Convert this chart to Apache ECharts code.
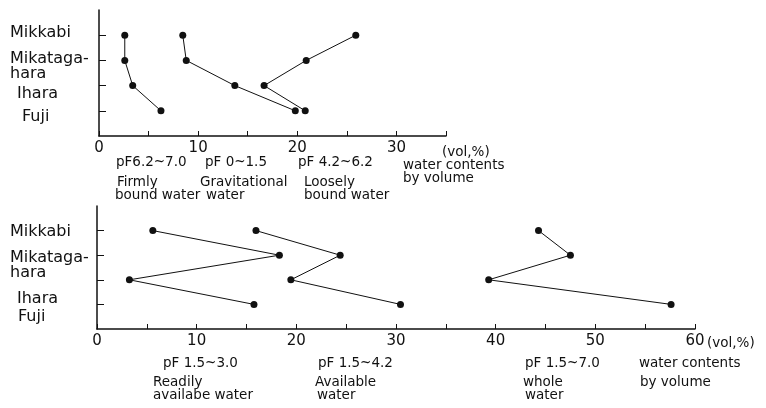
<!DOCTYPE html>
<html>
<head>
<meta charset="UTF-8">
<script src="https://cdn.jsdelivr.net/npm/echarts@6/dist/echarts.min.js"></script>
<style>
html, body { margin: 0; padding: 0; background: #fff; }
#main { width: 766px; height: 408px; }
</style>
</head>
<body>
<div id="main"></div>
<script>
// sites, top to bottom
var sites = ['Mikkabi', 'Mikatagahara', 'Ihara', 'Fuji'];
var siteLabels = ['Mikkabi', 'Mikataga-\nhara', 'Ihara', 'Fuji'];

// upper panel - water contents by volume (vol,%)
var firmlyBound = [2.6, 2.6, 3.4, 6.25];       // pF 6.2~7.0
var gravitational = [8.45, 8.8, 13.7, 19.8];   // pF 0~1.5
var looselyBound = [25.9, 20.9, 16.65, 20.8];  // pF 4.2~6.2

// lower panel
var readilyAvail = [5.6, 18.3, 3.25, 15.75];   // pF 1.5~3.0
var available = [15.95, 24.4, 19.45, 30.45];   // pF 1.5~4.2
var wholeWater = [44.3, 47.5, 39.3, 57.6];     // pF 1.5~7.0

var topTickLabels = [0, 10, 20, 30];
var bottomTickLabels = [0, 10, 20, 30, 40, 50, 60];

var FONT = '"DejaVu Sans", sans-serif';
var INK = '#111';

// site i sits at position i+1 on a 0..5 axis
function toPoints(arr) {
	return arr.map(function (v, i) { return [v, i + 1]; });
}

function lineSeries(name, arr, grid) {
	return {
		name: name,
		type: 'line',
		xAxisIndex: grid,
		yAxisIndex: grid,
		data: toPoints(arr),
		symbol: 'circle',
		symbolSize: 7,
		itemStyle: { color: INK },
		lineStyle: { color: INK, width: 1 },
		silent: true,
		animation: false
	};
}

function xAxis(grid, max, labels) {
	return {
		type: 'value', gridIndex: grid, min: 0, max: max, interval: 5,
		position: 'bottom',
		axisLine: { onZero: false, lineStyle: { color: INK, width: 1.5 } },
		axisTick: { inside: true, length: 5, lineStyle: { color: INK } },
		splitLine: { show: false },
		axisLabel: {
			color: INK, fontFamily: FONT, fontSize: 15, margin: 5,
			formatter: function (v) { return labels.indexOf(v) >= 0 ? String(v) : ''; }
		}
	};
}

function yAxis(grid) {
	return {
		type: 'value', gridIndex: grid, min: 0, max: 5, interval: 1, inverse: true,
		position: 'left',
		axisLine: { show: true, onZero: false, lineStyle: { color: INK, width: 1.5 } },
		axisTick: { show: true, inside: true, length: 7, customValues: [1, 2, 3, 4], lineStyle: { color: INK } },
		axisLabel: { show: false },
		splitLine: { show: false }
	};
}

// hand-lettered notes under the axes: [text, left x, baseline y]
var notes = [
	['pF6.2~7.0', 116, 167], ['Firmly', 117, 187], ['bound water', 115, 200],
	['pF 0~1.5', 205, 167], ['Gravitational', 200, 187], ['water', 206, 200],
	['pF 4.2~6.2', 298, 167], ['Loosely', 304, 187], ['bound water', 304, 200],
	['(vol,%)', 442, 157], ['water contents', 403, 170], ['by volume', 403, 183],
	['pF 1.5~3.0', 163, 368], ['Readily', 153, 387], ['availabe water', 153, 400],
	['pF 1.5~4.2', 318, 368], ['Available', 315, 387], ['water', 317, 400],
	['pF 1.5~7.0', 525, 368], ['whole', 523, 387], ['water', 525, 400],
	['(vol,%)', 707, 348], ['water contents', 639, 368], ['by volume', 640, 387]
];
// where the site names are lettered in each panel
var topLabelPos = [[10, 33], [10, 66], [17, 94], [22, 117]];
var bottomLabelPos = [[10, 232], [10, 265], [17, 299], [18, 317]];

var graphics = [];
notes.forEach(function (n) {
	graphics.push({
		type: 'text', silent: true,
		style: { text: n[0], x: n[1], y: n[2] - 5, fill: INK, font: '13.5px ' + FONT, verticalAlign: 'middle' }
	});
});
[topLabelPos, bottomLabelPos].forEach(function (pos) {
	siteLabels.forEach(function (s, i) {
		graphics.push({
			type: 'text', silent: true,
			style: {
				text: s, x: pos[i][0], y: pos[i][1], fill: INK, font: '16px ' + FONT,
				verticalAlign: 'middle', lineHeight: 15
			}
		});
	});
});

var chart = echarts.init(document.getElementById('main'), null, { renderer: 'canvas' });
chart.setOption({
	backgroundColor: '#fff',
	animation: false,
	grid: [
		{ left: 99, top: 10, width: 347, height: 126 },
		{ left: 97, top: 206, width: 598, height: 123 }
	],
	xAxis: [xAxis(0, 35, topTickLabels), xAxis(1, 60, bottomTickLabels)],
	yAxis: [yAxis(0), yAxis(1)],
	series: [
		lineSeries('Firmly bound water', firmlyBound, 0),
		lineSeries('Gravitational water', gravitational, 0),
		lineSeries('Loosely bound water', looselyBound, 0),
		lineSeries('Readily availabe water', readilyAvail, 1),
		lineSeries('Available water', available, 1),
		lineSeries('Whole water', wholeWater, 1)
	],
	graphic: graphics
});
</script>
</body>
</html>
